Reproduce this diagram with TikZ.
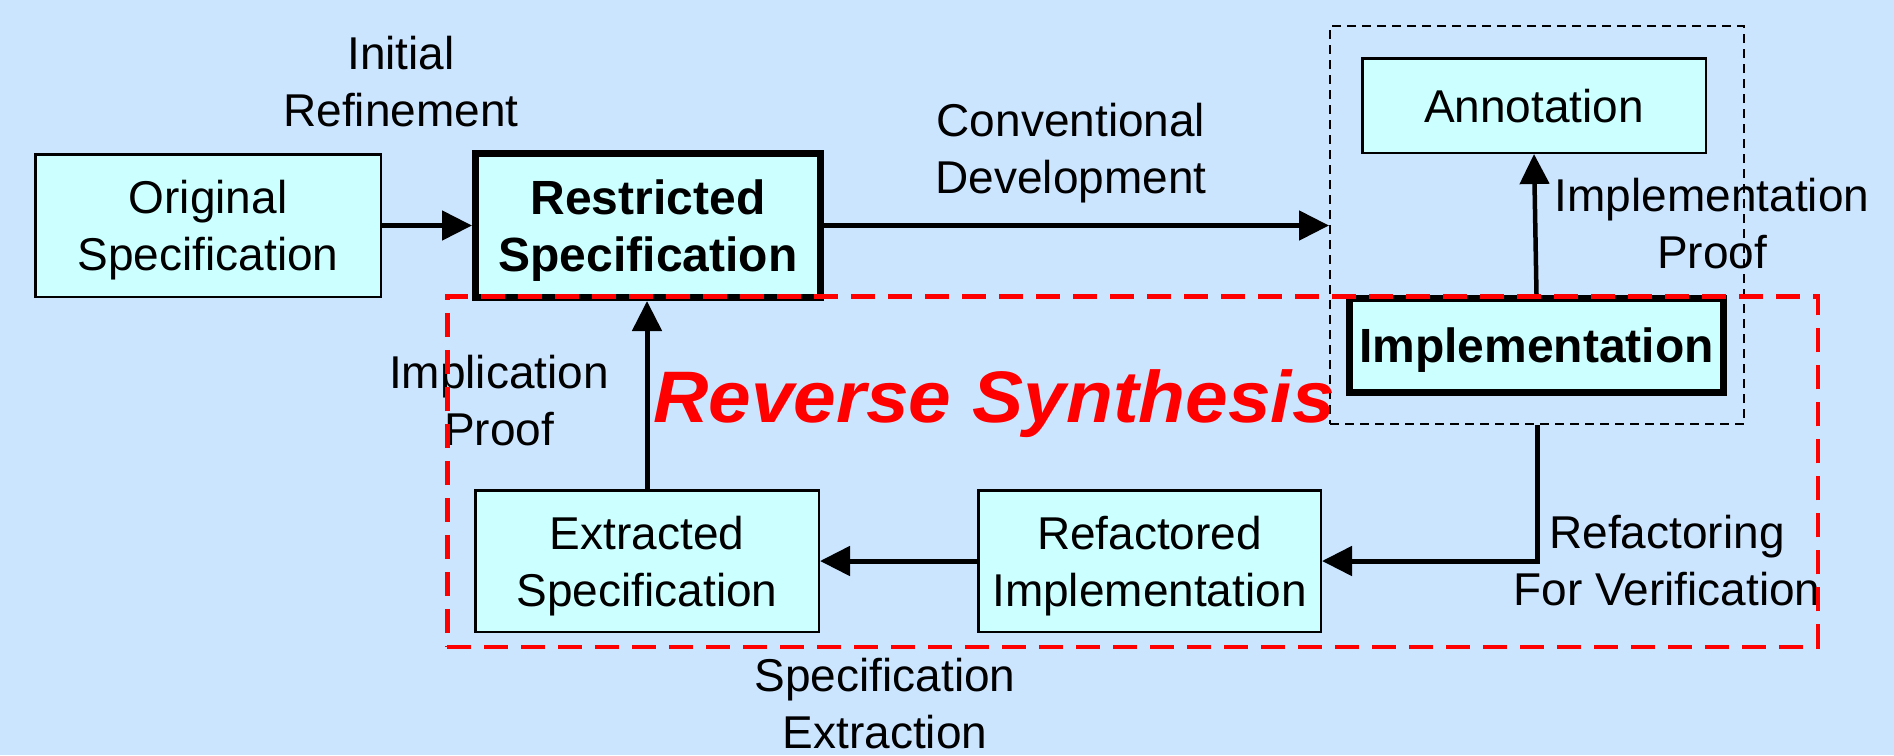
\documentclass[tikz,border=0pt]{standalone}
\usepackage{fontspec}
\setmainfont{Liberation Sans}
\usetikzlibrary{arrows.meta}
\definecolor{bg}{RGB}{204,229,255}
\definecolor{boxfill}{RGB}{204,255,255}
\begin{document}
\begin{tikzpicture}[x=1pt,y=-1pt,
  every node/.style={font=\fontsize{46}{57}\selectfont, align=center, inner sep=0pt},
  box/.style={draw=black, fill=boxfill, line width=2.5pt, text depth=0pt},
  thickbox/.style={box, line width=7pt, font=\fontsize{48}{57}\selectfont\bfseries},
  arr/.style={draw=black, line width=5pt, -{Triangle[length=30pt,width=29pt]}},
  grpbox/.style={draw=black, line width=2pt, dash pattern=on 9pt off 6pt},
  rsbox/.style={draw=red, line width=4.5pt, dash pattern=on 24pt off 13pt},
  rstext/.style={text=red, font=\fontsize{73}{80}\selectfont\bfseries\itshape}
]
\fill[bg] (0,0) rectangle (1894,755);
\useasboundingbox (0,0) rectangle (1894,755);

% group box
\node[grpbox, minimum width=414pt, minimum height=398pt] (grp) at (1537,225) {};

% boxes
\node[box, minimum width=345.5pt, minimum height=142.5pt] (orig) at (208,225.5) {Original\\Specification};
\node[thickbox, minimum width=345pt, minimum height=144pt] (restr) at (648,225.5) {Restricted\\Specification};
\node[box, minimum width=343.5pt, minimum height=94.5pt] (annot) at (1534,105.5) {Annotation};
\node[thickbox, minimum width=374pt, minimum height=94pt] (impl) at (1536.5,345.5) {Implementation};
\node[box, minimum width=343.5pt, minimum height=141.5pt] (extr) at (647,561) {Extracted\\Specification};
\node[box, minimum width=342.5pt, minimum height=141.5pt] (refac) at (1149.5,561) {Refactored\\Implementation};

% connectors
\draw[arr] (orig.east) -- (orig.east -| restr.west);
\draw[arr] (restr.east) -- (restr.east -| grp.west);
\draw[arr, line width=4.5pt] (impl.north) -- (annot.south);
\draw[arr] (grp.south) |- (refac.east);
\draw[arr] (refac.west) -- (extr.east);
\draw[arr] (extr.north) -- (extr.north |- restr.south);

% labels
\node (lInit) at (401,81.5) {Initial\\Refinement};
\node (lConv) at (1071,153.5) {Conventional\\Development};
\node (lImplP) at (1712,224) {Implementation\\Proof};
\node (lImplic) at (499,400.5) {Implication\\Proof};
\node (lRefac) at (1667,560.5) {Refactoring\\For Verification};
\node (lSpecEx) at (885,704) {Specification\\Extraction};

% reverse synthesis region
\node[rsbox, minimum width=1370.5pt, minimum height=350.5pt] (rsreg) at (1132.5,471.5) {};
\node[rstext, anchor=base] (rsText) at (994,422) {\scalebox{1.05}[1]{Reverse Synthesis}};
\end{tikzpicture}
\end{document}
